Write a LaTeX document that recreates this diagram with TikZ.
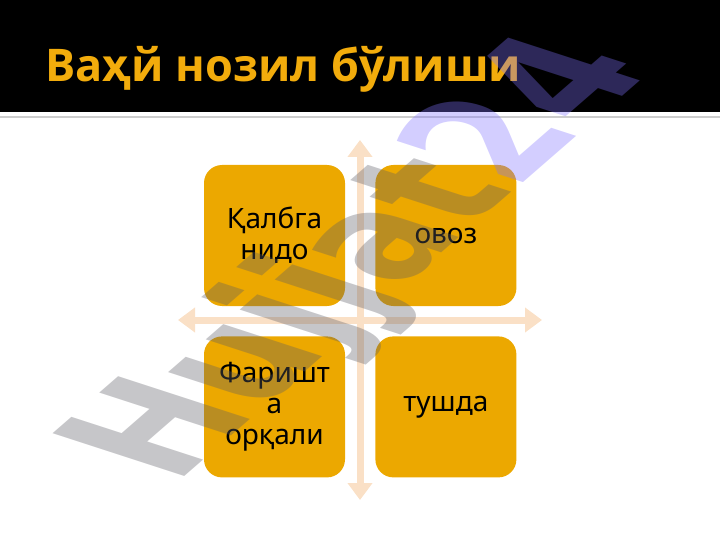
\documentclass[tikz,border=0pt]{standalone}
\usepackage{fontspec}
\setmainfont{Noto Sans}
\newfontfamily\titlefont{Open Sans}
\newfontfamily\markfont{DejaVu Sans}
\usepackage{tikz}
\usetikzlibrary{arrows.meta,positioning,calc}

\definecolor{gold}{RGB}{236,168,0}
\definecolor{titlegold}{RGB}{242,172,12}
\definecolor{peach}{RGB}{250,224,198}
\definecolor{markgray}{RGB}{92,92,100}
\definecolor{markpurple}{RGB}{129,115,255}
\definecolor{rulegray}{RGB}{205,205,205}

\begin{document}
\begin{tikzpicture}[x=1pt,y=-1pt,
    card/.style={fill=gold, rounded corners=18pt, minimum width=141pt, minimum height=141pt,
        inner sep=0pt, align=center, font=\fontsize{28}{31}\selectfont},
    cross/.style={draw=peach, line width=7pt,
        {Triangle[width=24pt,length=17pt]}-{Triangle[width=24pt,length=17pt]}}]
    \useasboundingbox (0,0) rectangle (720,540);

    % Header
    \fill[black] (0,0) rectangle (720,112);
    \draw[rulegray, line width=2pt] (0,117) -- (720,117);
    \node[anchor=base west, inner sep=0pt, text=titlegold, font=\titlefont\bfseries\fontsize{45}{54}\selectfont] (title) at (45,82) {Ваҳй нозил бўлиши};

    % Arrows
    \coordinate (up) at (360,140);
    \coordinate (down) at (360,500);
    \coordinate (left) at (178,320);
    \coordinate (right) at (542,320);
    \draw[cross] (down) -- (up);
    \draw[cross] (left) -- (right);

    % Cards
    \node[card] (qalb) at (274.5,235.5) {Қалбга\\нидо};
    \node[card, right=30pt of qalb] (ovoz) {овоз};
    \node[card, below=30pt of qalb] (farishta) {Фаришт\\а\\орқали};
    \node[card, right=30pt of farishta] (tush) {тушда};

    % Watermark
    \begin{scope}[shift={(175,485)}, cm={1.004,0.873,-1.807,0.587,(0,0)}]
        \node[transform shape, anchor=base west, inner sep=0pt, text opacity=0.35,
            font=\markfont\bfseries\fontsize{100}{100}\selectfont] (mark) at (0,0)
            {\textcolor{markgray}{Hujjat}\textcolor{markpurple}{24}};
    \end{scope}
\end{tikzpicture}
\end{document}
